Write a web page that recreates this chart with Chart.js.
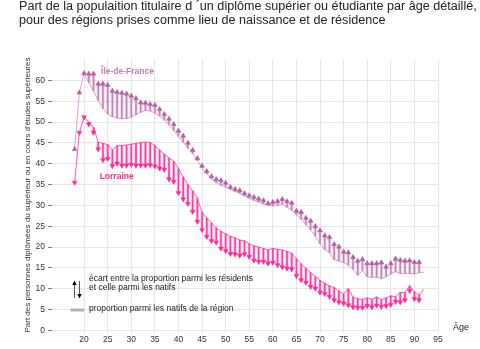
<!DOCTYPE html>
<html>
<head>
<meta charset="utf-8">
<script src="https://cdn.jsdelivr.net/npm/chart.js@4"></script>
<style>
body { margin: 0; background: #fff; }
</style>
</head>
<body>
<canvas id="chart" width="480" height="349"></canvas>
<script>
// ages 18 to 92
var ages = [];
for (var a = 18; a <= 92; a++) ages.push(a);

// Ile-de-France : share among residents / among natives
var idfResidents = [43.5, 57.1, 61.7, 61.6, 61.6, 59.2, 59.2, 58.9, 57.5, 57.2,
    57.0, 56.8, 56.3, 55.7, 54.7, 54.6, 54.3, 54.1, 53.1, 51.9,
    50.8, 49.5, 47.9, 46.7, 45.0, 43.3, 41.3, 39.5, 38.2, 37.0,
    36.3, 36.0, 35.4, 34.4, 33.9, 33.6, 32.9, 32.4, 32.0, 31.6,
    31.2, 30.5, 30.8, 31.0, 31.5, 31.0, 30.6, 28.7, 28.4, 27.0,
    26.3, 25.0, 24.0, 22.8, 22.4, 20.7, 20.1, 18.9, 18.7, 17.6,
    16.7, 17.1, 16.1, 16.1, 16.1, 16.3, 15.3, 16.1, 17.2, 16.9,
    16.7, 16.8, 16.4, 16.4, null];
var idfNatives = [43.5, 57.1, 61.7, 59.5, 57.5, 55.2, 53.3, 52.0, 51.3, 51.0,
    50.8, 50.9, 51.2, 51.8, 52.4, 52.8, 52.7, 52.2, 51.5, 50.5,
    49.3, 48.0, 46.6, 45.2, 43.8, 42.5, 40.8, 39.0, 37.6, 36.4,
    35.5, 34.9, 34.4, 33.9, 33.4, 32.9, 32.3, 31.7, 31.2, 30.8,
    30.4, 30.1, 29.9, 30.0, 30.3, 29.6, 28.9, 27.8, 26.7, 25.4,
    24.2, 22.7, 20.8, 19.4, 18.7, 17.0, 16.7, 16.3, 15.7, 14.7,
    13.3, 14.4, 12.9, 12.8, 12.8, 12.5, 12.9, 13.6, 14.1, 13.7,
    13.7, 13.7, 13.6, 13.9, 14.0];

// Lorraine
var lorResidents = [35.5, 47.5, 51.2, 49.5, 47.5, 43.5, 40.9, 41.2, 39.5, 40.1,
    39.6, 39.6, 39.8, 39.6, 39.6, 39.6, 39.7, 39.4, 38.9, 38.6,
    36.3, 35.7, 33.0, 31.5, 30.4, 28.5, 26.1, 24.1, 22.5, 21.5,
    21.1, 19.7, 19.1, 18.4, 18.3, 18.0, 18.3, 17.7, 16.8, 16.5,
    16.5, 16.1, 16.3, 15.7, 15.2, 14.9, 14.7, 13.1, 12.1, 11.5,
    10.5, 10.1, 9.1, 8.8, 8.1, 7.3, 6.8, 6.5, 6.1, 5.6,
    5.5, 5.5, 5.9, 5.6, 6.0, 5.7, 5.9, 6.2, 6.9, 6.8,
    7.3, 9.5, 7.6, 7.3, null];
var lorNatives = [35.5, 47.5, 51.2, 50.0, 48.7, 45.2, 44.9, 44.6, 43.3, 44.3,
    44.4, 44.5, 44.7, 44.9, 45.1, 45.2, 45.1, 44.4, 43.3, 42.3,
    41.4, 40.6, 38.8, 36.8, 35.0, 33.5, 31.8, 28.3, 27.0, 25.8,
    24.6, 23.8, 23.2, 22.6, 22.2, 21.7, 21.5, 20.8, 20.3, 20.0,
    19.7, 19.3, 19.7, 19.5, 19.3, 19.0, 18.5, 17.2, 16.0, 14.9,
    13.9, 12.9, 12.0, 11.3, 10.7, 10.3, 9.5, 8.8, 10.0, 8.0,
    7.6, 7.5, 7.8, 7.5, 8.0, 7.4, 7.8, 8.3, 8.1, 9.1,
    9.1, 10.7, 9.3, 8.5, 9.9];

var xTicks = [20, 25, 30, 35, 40, 45, 50, 55, 60, 65, 70, 75, 80, 85, 90, 95];
var yTicks = [0, 5, 10, 15, 20, 25, 30, 35, 40, 45, 50, 55, 60];

var titleLines = ['Part de la populaition titulaire d \u00b4un diplôme supérier ou étudiante par âge détaillé,',
    'pour des régions prises comme lieu de naissance et de résidence'];

var font = 'Liberation Sans';

function points(vals) {
    return ages.map(function (x, i) { return { x: x, y: vals[i] }; });
}
function shafts(res, nat) {
    return ages.map(function (x, i) {
        return { x: x, y: res[i] === null ? null : [nat[i], res[i]] };
    });
}
function heads(res, nat, up) {
    return function (c) {
        var i = c.dataIndex;
        if (res[i] === nat[i]) return up ? 0 : 180;
        return res[i] > nat[i] ? 0 : 180;
    };
}

// one region = native line + arrow (halo, core, head)
function region(res, nat, lineCol, haloCol, shaftCol, col, up) {
    return [{
        type: 'line', data: points(nat), borderColor: lineCol, borderWidth: 1,
        pointRadius: 0, tension: 0, order: 3
    }, {
        type: 'bar', data: shafts(res, nat), backgroundColor: haloCol,
        barThickness: 3, grouped: false, order: 2
    }, {
        type: 'bar', data: shafts(res, nat), backgroundColor: shaftCol,
        barThickness: 1, grouped: false, order: 1
    }, {
        type: 'line', data: points(res), showLine: false, pointStyle: 'triangle',
        pointRadius: 2.8, pointBackgroundColor: col, pointBorderColor: col,
        pointBorderWidth: 0.5, pointRotation: heads(res, nat, up), order: 0
    }];
}

var annot = {
    id: 'annot',
    afterDraw: function (chart) {
        var c = chart.ctx, xs = chart.scales.x, ys = chart.scales.y;
        c.save();
        c.textBaseline = 'middle';
        c.textAlign = 'left';

        // title, sized so the first line spans like the original
        c.font = '10px "' + font + '"';
        var size = 10 * 458 / c.measureText(titleLines[0]).width;
        c.font = size.toFixed(2) + 'px "' + font + '"';
        c.fillStyle = '#222';
        c.fillText(titleLines[0], 19, 7);
        c.fillText(titleLines[1], 19, 20.5);

        c.font = 'bold 8.5px "' + font + '"';
        c.fillStyle = '#c47ab5';
        c.fillText('Île-de-France', xs.getPixelForValue(23.6), ys.getPixelForValue(62.1));
        c.fillStyle = '#ff2a95';
        c.fillText('Lorraine', xs.getPixelForValue(23.3), ys.getPixelForValue(36.8));

        c.font = '8.5px "' + font + '"';
        c.fillStyle = '#222';
        c.fillText('écart entre la proportion parmi les résidents', 89, 279);
        c.fillText('et celle parmi les natifs', 89, 287.5);
        c.fillText('proportion parmi les natifs de la région', 89, 308.5);
        c.font = '9px "' + font + '"';
        c.fillText('Âge', 453, 328);

        // legend symbols
        c.strokeStyle = '#555';
        c.lineWidth = 1;
        c.beginPath();
        c.moveTo(74.5, 298); c.lineTo(74.5, 284);
        c.moveTo(79.5, 281); c.lineTo(79.5, 295);
        c.stroke();
        c.fillStyle = '#000';
        c.beginPath();
        c.moveTo(74.5, 280.5); c.lineTo(72.3, 285); c.lineTo(76.7, 285); c.closePath();
        c.moveTo(79.5, 298.5); c.lineTo(77.3, 294); c.lineTo(81.7, 294); c.closePath();
        c.fill();
        c.fillStyle = '#b3b3b3';
        c.fillRect(70.5, 308.5, 13.5, 3);
        c.restore();
    }
};

var ctx = document.getElementById('chart').getContext('2d');
var chart = new Chart(ctx, {
    type: 'bar',
    data: {
        datasets: region(idfResidents, idfNatives, '#d9a3cd', 'rgba(215,165,205,0.3)', '#c584b9', '#b35fa3', true)
            .concat(region(lorResidents, lorNatives, '#ff5aad', 'rgba(255,100,175,0.25)', '#ff3d9e', '#ff2a96', false))
    },
    options: {
        responsive: false,
        animation: false,
        devicePixelRatio: 1,
        events: [],
        layout: { padding: { left: 8, right: 42, top: 59.6, bottom: 0 } },
        plugins: {
            legend: { display: false },
            tooltip: { enabled: false },
            title: { display: false }
        },
        scales: {
            x: {
                type: 'linear',
                offset: false,
                min: 13.2,
                max: 95,
                afterBuildTicks: function (s) { s.ticks = xTicks.map(function (v) { return { value: v }; }); },
                afterFit: function (s) { s.height = 18.5; },
                ticks: { color: '#333', font: { family: font, size: 8.5 }, padding: 1, maxRotation: 0 },
                grid: { color: '#e6e6e6', tickLength: 3, offset: false },
                border: { display: false }
            },
            y: {
                min: 0,
                max: 65,
                afterBuildTicks: function (s) { s.ticks = yTicks.map(function (v) { return { value: v }; }); },
                afterFit: function (s) { s.width = 44; },
                ticks: { color: '#333', font: { family: font, size: 8.5 }, padding: 3 },
                grid: { color: '#e6e6e6', tickColor: '#777', tickLength: 4 },
                border: { display: false },
                title: {
                    display: true,
                    text: "Part des personnes diplômées du supérieur ou en cours d'études supérieures",
                    color: '#333',
                    font: { family: font, size: 8 },
                    padding: { top: 15, bottom: 0 }
                }
            }
        }
    },
    plugins: [annot]
});
</script>
</body>
</html>
